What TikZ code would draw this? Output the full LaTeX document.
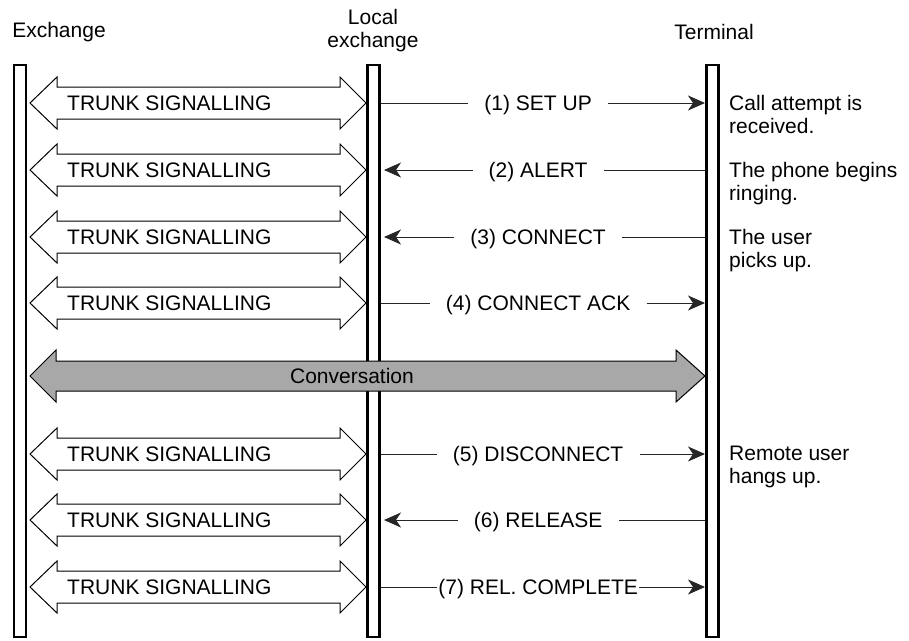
\documentclass[tikz,border=0pt]{standalone}
\usepackage{fontspec}
\setmainfont{Liberation Sans}
\usetikzlibrary{calc,arrows.meta,positioning}
\newcommand{\clrconv}{black!34}
\newcommand{\clrmsg}{black!85}

\begin{document}
\begin{tikzpicture}[x=1pt,y=-1pt,
    every node/.style={font=\fontsize{21}{23}\selectfont},
    bar/.style={draw, line width=2.2pt, fill=white, minimum width=12pt,
        minimum height=572pt, inner sep=0pt},
    trunk/.style={draw, line width=1pt, fill=white},
    conv/.style={draw, line width=1pt, fill=\clrconv},
    msgline/.style={draw=\clrmsg, line width=1pt},
    msgtip/.style={-{Stealth[length=17pt,width=15pt,inset=5pt]}},
    note/.style={anchor=north west, align=left, inner sep=0pt}]

        \useasboundingbox (0,0) rectangle (909,640);

        % the three bars
        \node[bar] (exch) at (20,351) {};
        \node[bar] (local) at (373.5,351) {};
        \node[bar] (term) at (712.5,351) {};

        \node (hexch) at (59,32) {Exchange};
        \node[align=center] (hlocal) at (373,31) {Local\\exchange};
        \node (hterm) at (714,32) {Terminal};

        % trunk signalling between the exchanges
        \foreach \r/\y in {1/103, 2/170, 3/237, 4/303, 5/454, 6/520, 7/587} {
            \draw[trunk] (30,\y) -- (57,\y-26) -- (57,\y-16) -- (340,\y-16)
                -- (340,\y-26) -- (366,\y) -- (340,\y+26) -- (340,\y+16)
                -- (57,\y+16) -- (57,\y+26) -- cycle;
            \node[anchor=west, inner sep=0pt] (t\r) at (67,\y) {TRUNK SIGNALLING};
            \coordinate (l\r) at (381,\y);
            \coordinate (r\r) at (705,\y);
        }

        % messages towards the terminal
        \foreach \r/\txt/\gap in {1/{(1) SET UP}/16, 4/{(4) CONNECT ACK}/16,
                5/{(5) DISCONNECT}/16, 7/{(7) REL. COMPLETE}/1} {
            \node[inner xsep=\gap pt, yshift=-2pt] (m\r) at ($(l\r)!0.485!(r\r)$) {\txt};
            \draw[msgline] (l\r) -- (l\r -| m\r.west);
            \draw[msgline, msgtip] (r\r -| m\r.east) -- (r\r);
        }

        % messages towards the local exchange
        \foreach \r/\txt in {2/{(2) ALERT}, 3/{(3) CONNECT}, 6/{(6) RELEASE}} {
            \node[inner xsep=16pt, yshift=-2pt] (m\r) at ($(l\r)!0.485!(r\r)$) {\txt};
            \draw[msgline] (r\r) -- (r\r -| m\r.east);
            \draw[msgline, msgtip, shorten >=3pt] (l\r -| m\r.west) -- (l\r);
        }

        % conversation
        \draw[conv] (30,376) -- (56,350) -- (56,361) -- (676,361) -- (676,350)
            -- (705,376) -- (676,402) -- (676,391) -- (56,391) -- (56,402) -- cycle;
        \node (conv) at (352,376) {Conversation};

        % notes at the terminal
        \node[note] (n1) at (729,95) {Call attempt is\\received.};
        \node[note] (n2) at (729,162) {The phone begins\\ringing.};
        \node[note] (n3) at (729,229) {The user\\picks up.};
        \node[note] (n5) at (729,446) {Remote user\\hangs up.};

    \end{tikzpicture}
\end{document}
